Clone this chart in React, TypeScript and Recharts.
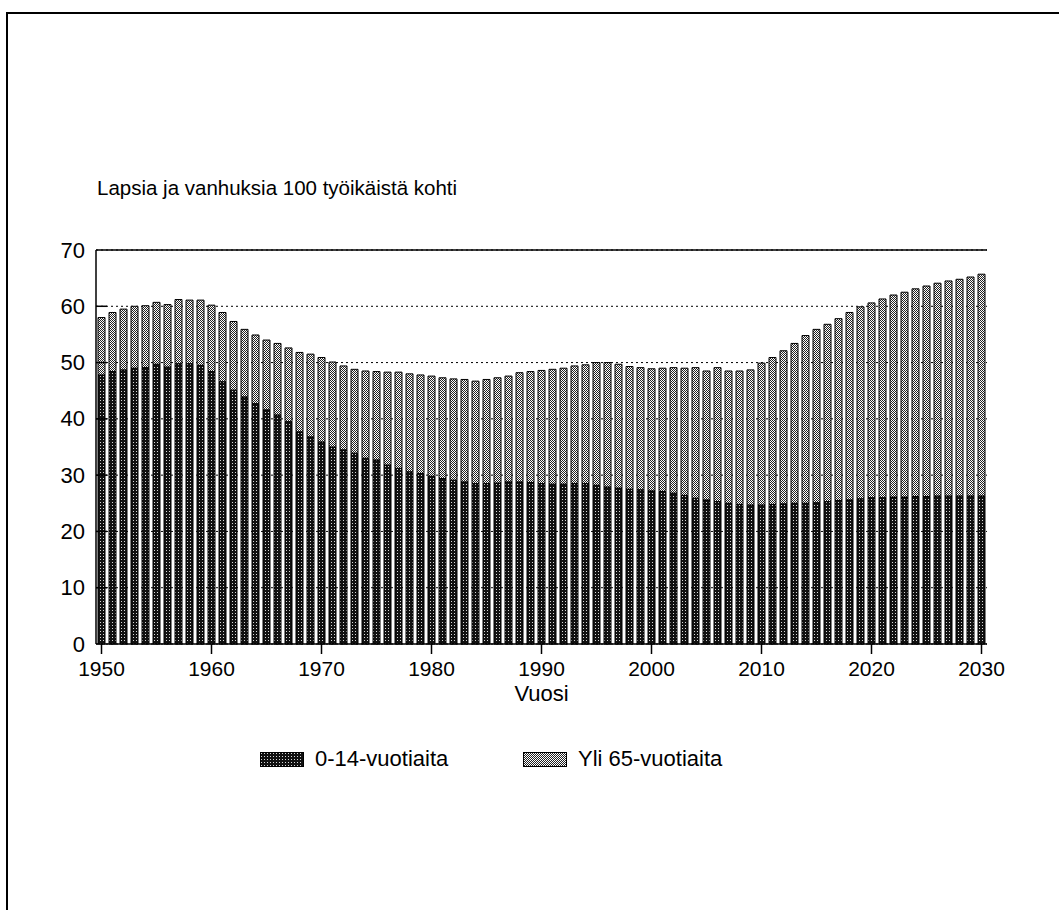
import React from 'react';
import { BarChart, Bar, XAxis, YAxis, CartesianGrid, ReferenceLine } from 'recharts';

// vuodet 1950–2030
const YEARS = Array.from({ length: 81 }, (_, i) => 1950 + i);
const DECADES = [1950, 1960, 1970, 1980, 1990, 2000, 2010, 2020, 2030];
const Y_TICKS = [0, 10, 20, 30, 40, 50, 60, 70];

// 0-14-vuotiaita / 100 työikäistä
const CHILDREN = [
  47.8, 48.4, 48.7, 49.0, 49.1, 49.7, 49.2, 49.8, 49.8, 49.5,
  48.4, 46.6, 45.1, 43.9, 42.7, 41.6, 40.7, 39.5, 37.7, 36.8,
  35.9, 35.0, 34.5, 33.9, 33.0, 32.7, 31.8, 31.2, 30.6, 30.3,
  29.8, 29.4, 29.1, 28.8, 28.5, 28.5, 28.6, 28.8, 28.8, 28.7,
  28.5, 28.4, 28.4, 28.5, 28.5, 28.2, 27.9, 27.7, 27.5, 27.4,
  27.2, 27.1, 26.8, 26.4, 25.9, 25.6, 25.3, 25.0, 24.8, 24.7,
  24.7, 24.8, 24.9, 25.0, 25.0, 25.1, 25.3, 25.5, 25.6, 25.8,
  26.0, 26.0, 26.1, 26.1, 26.2, 26.2, 26.3, 26.3, 26.3, 26.3,
  26.3,
];

// yli 65-vuotiaita / 100 työikäistä
const ELDERLY = [
  10.2, 10.5, 10.8, 11.0, 11.0, 11.0, 11.1, 11.4, 11.3, 11.6,
  11.8, 12.3, 12.2, 12.0, 12.2, 12.4, 12.7, 13.1, 14.1, 14.7,
  15.0, 15.1, 14.9, 14.9, 15.5, 15.7, 16.5, 17.1, 17.4, 17.5,
  17.8, 17.9, 18.0, 18.2, 18.2, 18.5, 18.7, 18.8, 19.4, 19.7,
  20.1, 20.4, 20.6, 20.9, 21.1, 21.8, 22.1, 22.0, 21.8, 21.7,
  21.7, 21.9, 22.3, 22.6, 23.2, 22.9, 23.8, 23.5, 23.7, 24.0,
  25.2, 26.1, 27.2, 28.4, 29.8, 30.8, 31.5, 32.3, 33.3, 34.1,
  34.6, 35.3, 35.9, 36.4, 36.9, 37.4, 37.8, 38.2, 38.5, 38.9,
  39.4,
];

const data = YEARS.map((year, i) => ({ year, lapset: CHILDREN[i], vanhukset: ELDERLY[i] }));

const FONT = '"Liberation Sans", Arial, Helvetica, sans-serif';

const Patterns = () => (
  <defs>
    <pattern id="dark" width="3" height="3" patternUnits="userSpaceOnUse">
      <rect width="3" height="3" fill="#111" />
      <rect x="1" y="1" width="1" height="1" fill="#d8d8d8" />
    </pattern>
    <pattern id="light" width="2" height="2" patternUnits="userSpaceOnUse">
      <rect width="2" height="2" fill="#fff" />
      <rect x="0" y="0" width="1" height="1" fill="#222" />
      <rect x="1" y="1" width="1" height="1" fill="#222" />
    </pattern>
  </defs>
);

const YTick = (props: any) => {
  const { x, y, payload } = props;
  return (
    <g>
      <text x={x} y={y} dy={7.5} textAnchor="end" fontSize={22} fontFamily={FONT} fill="#000">
        {payload.value}
      </text>
      {payload.value > 0 && payload.value < 70 && (
        <line x1={x + 11} x2={x + 22} y1={y} y2={y} stroke="#000" strokeWidth={1.5} />
      )}
    </g>
  );
};

const LegendItem = ({ left, fill, label }: { left: number; fill: string; label: string }) => (
  <div style={{ position: 'absolute', left, top: 748, display: 'flex', alignItems: 'flex-start' }}>
    <svg width={44} height={15} style={{ marginTop: 4 }}>
      <Patterns />
      <rect x={0.5} y={0.5} width={43} height={14} fill={`url(#${fill})`} stroke="#000" />
    </svg>
    <span style={{ marginLeft: 11, fontSize: 22, lineHeight: '22px', fontFamily: FONT }}>{label}</span>
  </div>
);

export default function App() {
  return (
    <div style={{ position: 'absolute', left: 0, top: 0, width: 1059, height: 910, background: '#fff', overflow: 'hidden' }}>
      {/* kehys */}
      <div style={{ position: 'absolute', left: 6, top: 12, width: 1100, height: 950, borderTop: '2px solid #000', borderLeft: '2px solid #000' }} />

      <div style={{ position: 'absolute', left: 97, top: 178, fontSize: 20.5, lineHeight: '20.5px', fontFamily: FONT, whiteSpace: 'nowrap' }}>
        Lapsia ja vanhuksia 100 työikäistä kohti
      </div>

      <div style={{ position: 'absolute', left: 0, top: 0 }}>
        <BarChart
          width={1059}
          height={910}
          data={data}
          margin={{ top: 250, right: 72, bottom: 208, left: 36 }}
          barCategoryGap={2}
        >
          <Patterns />
          <CartesianGrid horizontal vertical={false} stroke="#000" strokeDasharray="2 3" strokeWidth={1} />
          <XAxis
            dataKey="year"
            type="category"
            ticks={DECADES}
            interval={0}
            height={58}
            axisLine={{ stroke: '#000', strokeWidth: 1.5 }}
            tickLine={{ stroke: '#000', strokeWidth: 1.5 }}
            tickSize={10}
            tickMargin={7}
            tick={{ fontSize: 21, fontFamily: FONT, fill: '#000' }}
            label={{ value: 'Vuosi', position: 'insideBottom', offset: 1, fontSize: 22, fontFamily: FONT, fill: '#000' }}
          />
          <YAxis
            domain={[0, 70]}
            ticks={Y_TICKS}
            width={60}
            axisLine={{ stroke: '#000', strokeWidth: 1.5 }}
            tickLine={false}
            tickSize={0}
            tick={<YTick />}
            tickMargin={11}
          />
          <YAxis
            yAxisId="r"
            orientation="right"
            domain={[0, 70]}
            width={0}
            tick={false}
            tickLine={false}
            axisLine={{ stroke: '#000', strokeWidth: 1.5 }}
          />
          <ReferenceLine y={70} stroke="#000" strokeWidth={1.5} />
          <Bar dataKey="lapset" stackId="a" fill="url(#dark)" stroke="#000" strokeWidth={1} isAnimationActive={false} />
          <Bar dataKey="vanhukset" stackId="a" fill="url(#light)" stroke="#000" strokeWidth={1} isAnimationActive={false} />
        </BarChart>
      </div>

      <LegendItem left={260} fill="dark" label="0-14-vuotiaita" />
      <LegendItem left={523} fill="light" label="Yli 65-vuotiaita" />
    </div>
  );
}
